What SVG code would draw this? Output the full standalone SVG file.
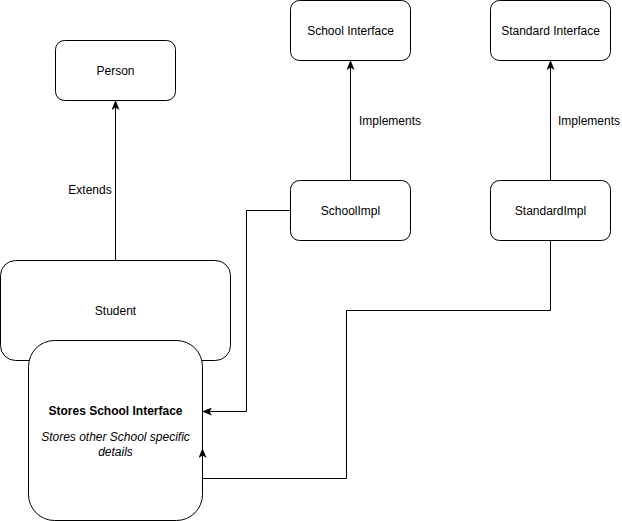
<svg xmlns="http://www.w3.org/2000/svg" width="622" height="521" viewBox="0 0 622 521">
<style>
.box{fill:#fff;stroke:#000;stroke-width:1}
.t{font-family:"Liberation Sans",Arial,Helvetica,sans-serif;font-size:12px;fill:#000;text-anchor:middle}
.c{fill:none;stroke:#000;stroke-width:1}
</style>
<defs>
<marker id="arr" viewBox="0 0 10 8" refX="9" refY="4" markerWidth="10" markerHeight="8" markerUnits="userSpaceOnUse" orient="auto">
<path d="M0,0 L10,4 L0,8 L2.5,4 Z" fill="#000"/>
</marker>
</defs>
<rect width="622" height="521" fill="#fff"/>
<g id="person"><rect class="box" x="55.5" y="40.5" width="120" height="60" rx="9"/><text class="t" x="115.5" y="75">Person</text></g>
<g id="school-interface"><rect class="box" x="290.5" y="0.5" width="120" height="60" rx="9"/><text class="t" x="350.5" y="35">School Interface</text></g>
<g id="standard-interface"><rect class="box" x="490.5" y="0.5" width="120" height="60" rx="9"/><text class="t" x="550.5" y="35">Standard Interface</text></g>
<g id="schoolimpl"><rect class="box" x="290.5" y="180.5" width="120" height="60" rx="9"/><text class="t" x="350.5" y="215">SchoolImpl</text></g>
<g id="standardimpl"><rect class="box" x="490.5" y="180.5" width="120" height="60" rx="9"/><text class="t" x="550.5" y="215">StandardImpl</text></g>
<g id="student"><rect class="box" x="0.5" y="260.5" width="230" height="100" rx="15"/><text class="t" x="115.5" y="315">Student</text></g>
<g id="stores"><rect class="box" x="28.5" y="340.5" width="174" height="180" rx="26"/>
<text class="t" x="115.5" y="415" font-weight="bold">Stores School Interface</text>
<text class="t" x="115.5" y="441" font-style="italic">Stores other School specific</text>
<text class="t" x="115.5" y="456" font-style="italic">details</text></g>
<g id="connectors">
<path class="c" d="M115.5,260.5 V101" marker-end="url(#arr)"/>
<path class="c" d="M350.5,180.5 V61" marker-end="url(#arr)"/>
<path class="c" d="M550.5,180.5 V61" marker-end="url(#arr)"/>
<path class="c" d="M290.5,210.5 H246.5 V411.5 H203" marker-end="url(#arr)"/>
<path class="c" d="M550.5,240.5 V310.5 H346.5 V478.5 H202.5 V449" marker-end="url(#arr)"/>
<text class="t" x="90" y="194">Extends</text>
<text class="t" x="390" y="125">Implements</text>
<text class="t" x="589" y="125">Implements</text>
</g>
</svg>
